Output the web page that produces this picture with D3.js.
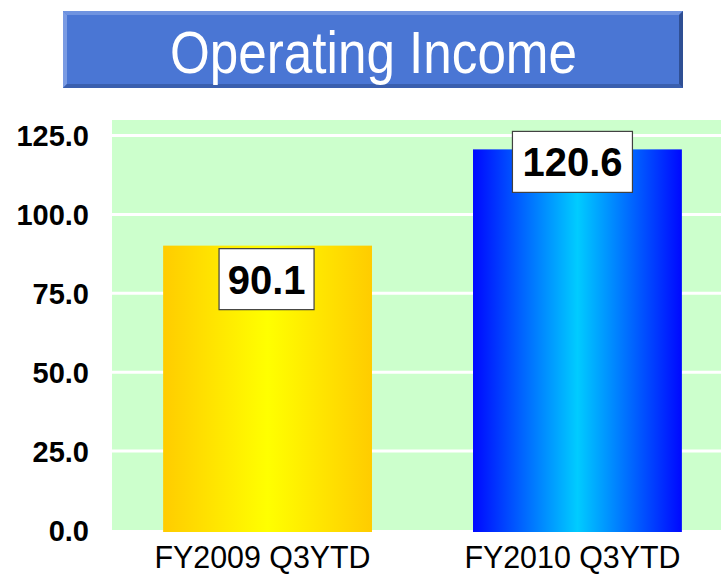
<!DOCTYPE html>
<html lang="en">
<head>
<meta charset="UTF-8"/>
<title>Operating Income</title>
<script src="https://d3js.org/d3.v7.min.js"></script>
<style>
  body { margin: 0; background: #ffffff; }
  svg { display: block; }
</style>
</head>
<body>
<script>
    // chart data
    var categories = ["FY2009 Q3YTD", "FY2010 Q3YTD"];
    var values = [90.1, 120.6];
    var yTicks = [0, 25, 50, 75, 100, 125];
    var title = "Operating Income";

    var w = 721;
    var h = 576;
    var plotLeft = 112, plotRight = 733, plotTop = 120, plotBottom = 530;

    var svg = d3.select("body")
        .append("svg")
        .attr("width", w)
        .attr("height", h);

    var defs = svg.append("defs");

    // horizontal gradients for the bars
    var gradients = [
        { id: "gradGold", edge: "#ffcc00", mid: "#ffff00" },
        { id: "gradBlue", edge: "#0008ff", mid: "#00ccff" }
    ];
    gradients.forEach(function (g) {
        var lg = defs.append("linearGradient")
            .attr("id", g.id)
            .attr("x1", "0%").attr("x2", "100%")
            .attr("y1", "0%").attr("y2", "0%");
        lg.append("stop").attr("offset", "0%").attr("stop-color", g.edge);
        lg.append("stop").attr("offset", "50%").attr("stop-color", g.mid);
        lg.append("stop").attr("offset", "100%").attr("stop-color", g.edge);
    });

    // title banner
    var tb = { x: 63, y: 11, w: 620, h: 77, b: 4 };
    svg.append("rect")
        .attr("x", tb.x).attr("y", tb.y)
        .attr("width", tb.w).attr("height", tb.h)
        .attr("fill", "#4a76d4");
    // bevel: light top/left, dark bottom/right
    svg.append("polygon")
        .attr("points", [[tb.x, tb.y], [tb.x + tb.w, tb.y], [tb.x + tb.w - tb.b, tb.y + tb.b], [tb.x + tb.b, tb.y + tb.b]].join(" "))
        .attr("fill", "#6f93e0");
    svg.append("polygon")
        .attr("points", [[tb.x, tb.y], [tb.x + tb.b, tb.y + tb.b], [tb.x + tb.b, tb.y + tb.h - tb.b], [tb.x, tb.y + tb.h]].join(" "))
        .attr("fill", "#7a9be3");
    svg.append("polygon")
        .attr("points", [[tb.x, tb.y + tb.h], [tb.x + tb.b, tb.y + tb.h - tb.b], [tb.x + tb.w - tb.b, tb.y + tb.h - tb.b], [tb.x + tb.w, tb.y + tb.h]].join(" "))
        .attr("fill", "#3a5fae");
    svg.append("polygon")
        .attr("points", [[tb.x + tb.w, tb.y], [tb.x + tb.w, tb.y + tb.h], [tb.x + tb.w - tb.b, tb.y + tb.h - tb.b], [tb.x + tb.w - tb.b, tb.y + tb.b]].join(" "))
        .attr("fill", "#2f4f94");
    svg.append("text")
        .attr("x", 170)
        .attr("y", 73)
        .attr("textLength", 407)
        .attr("lengthAdjust", "spacingAndGlyphs")
        .attr("font-family", "'Liberation Sans', Arial, sans-serif")
        .attr("font-size", "60px")
        .attr("fill", "#ffffff")
        .text(title);

    // scales
    var xScale = d3.scaleBand()
        .domain(categories)
        .range([plotLeft, plotRight])
        .paddingInner(0.326)
        .paddingOuter(0.165);

    var yScale = d3.scaleLinear()
        .domain([0, 130])
        .range([plotBottom, plotBottom - 130 * (plotBottom - 135.5) / 125]);

    // plot background
    svg.append("rect")
        .attr("x", plotLeft)
        .attr("y", plotTop)
        .attr("width", w - plotLeft)
        .attr("height", plotBottom - plotTop)
        .attr("fill", "#ccffcc");

    // gridlines
    svg.selectAll("line.grid")
        .data(yTicks.slice(1))
        .enter()
        .append("line")
        .attr("class", "grid")
        .attr("x1", plotLeft)
        .attr("x2", w)
        .attr("y1", function (d) { return yScale(d); })
        .attr("y2", function (d) { return yScale(d); })
        .attr("stroke", "#ffffff")
        .attr("stroke-width", 3);

    // y axis
    var yAxis = d3.axisLeft(yScale)
        .tickValues(yTicks)
        .tickSize(0)
        .tickPadding(0)
        .tickFormat(d3.format(".1f"));

    var yg = svg.append("g")
        .attr("transform", "translate(89, 0)")
        .call(yAxis);
    yg.select(".domain").remove();
    yg.selectAll("text")
        .attr("font-family", "'Liberation Sans', Arial, sans-serif")
        .attr("font-weight", "bold")
        .attr("font-size", "29px")
        .attr("dy", "0.36em")
        .attr("fill", "#000000");

    // bars
    svg.selectAll("rect.bar")
        .data(values)
        .enter()
        .append("rect")
        .attr("class", "bar")
        .attr("x", function (d, i) { return xScale(categories[i]); })
        .attr("y", function (d) { return yScale(d); })
        .attr("width", xScale.bandwidth())
        .attr("height", function (d) { return yScale(0) - yScale(d) + 2; })
        .attr("fill", function (d, i) { return "url(#" + gradients[i].id + ")"; });

    // value label boxes
    var labelShift = [[-1, 3], [-5, -18]];
    var boxW = [95, 120];
    var boxH = 61;
    var labels = svg.selectAll("g.vlabel")
        .data(values)
        .enter()
        .append("g")
        .attr("class", "vlabel")
        .attr("transform", function (d, i) {
            var cx = xScale(categories[i]) + xScale.bandwidth() / 2 + labelShift[i][0];
            var top = yScale(d) + labelShift[i][1];
            return "translate(" + cx + "," + top + ")";
        });
    labels.append("rect")
        .attr("x", function (d, i) { return -boxW[i] / 2; })
        .attr("y", 0)
        .attr("width", function (d, i) { return boxW[i]; })
        .attr("height", boxH)
        .attr("fill", "#ffffff")
        .attr("stroke", "#404040")
        .attr("stroke-width", 1.2);
    labels.append("text")
        .attr("x", 0)
        .attr("y", 45)
        .attr("text-anchor", "middle")
        .attr("font-family", "'Liberation Sans', Arial, sans-serif")
        .attr("font-weight", "bold")
        .attr("font-size", "40px")
        .attr("fill", "#000000")
        .text(function (d) { return d.toFixed(1); });

    // category labels
    svg.selectAll("text.cat")
        .data(categories)
        .enter()
        .append("text")
        .attr("class", "cat")
        .attr("x", function (d) { return xScale(d) + xScale.bandwidth() / 2 - 5; })
        .attr("y", 568)
        .attr("text-anchor", "middle")
        .attr("textLength", 216)
        .attr("lengthAdjust", "spacingAndGlyphs")
        .attr("font-family", "'Liberation Sans', Arial, sans-serif")
        .attr("font-size", "32px")
        .attr("fill", "#000000")
        .text(function (d) { return d; });
</script>
</body>
</html>
